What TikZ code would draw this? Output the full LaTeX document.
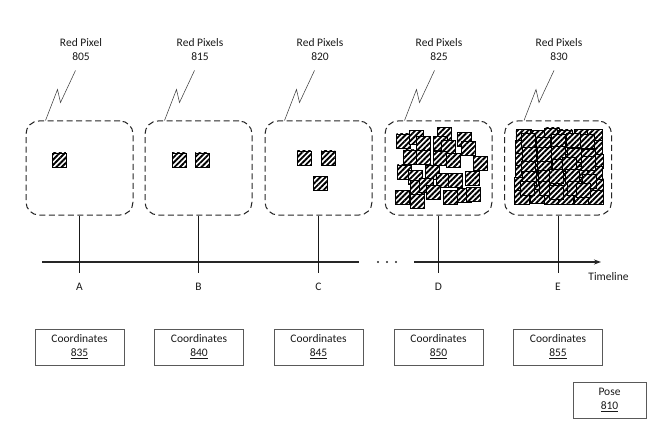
\documentclass[tikz,border=0pt]{standalone}
\usepackage{fontspec}
\setmainfont{Carlito}
\usetikzlibrary{patterns.meta,arrows.meta,calc}
\begin{document}
\begin{tikzpicture}[x=1pt,y=-1pt,
 every node/.style={font=\fontsize{11.5}{14}\selectfont, text=black!90},
 panel/.style={draw=black!85, line width=1pt, dash pattern=on 6pt off 3.5pt, rounded corners=13pt, minimum width=107pt, minimum height=94pt, inner sep=0pt},
 coordbox/.style={draw=black!65, line width=0.6pt, minimum width=89pt, minimum height=36pt, align=center, inner sep=0pt},
 pix/.style={draw=black, line width=0.6pt, fill=white, postaction={pattern={Lines[angle=45,distance=3.8pt,line width=1.9pt]}}},
 lead/.style={draw=black!75, line width=0.55pt},
 axis/.style={draw=black!85, line width=1.1pt},
 tick/.style={draw=black!90, line width=1pt},
 lbl/.style={align=center}]
\useasboundingbox (0,0) rectangle (672,433);
\newcommand\pixsq[2]{\draw[pix] (#1,#2) rectangle ++(14,14);}

% panels
\node[panel] (p1) at (79.5,168) {};
\node[panel] (p2) at (198.5,168) {};
\node[panel] (p3) at (318.5,168) {};
\node[panel] (p4) at (438.5,168) {};
\node[panel] (p5) at (558,168) {};

% labels
\node[lbl] (l1) at (81,50) {Red Pixel\\805};
\node[lbl] (l2) at (200,50) {Red Pixels\\815};
\node[lbl] (l3) at (320,50) {Red Pixels\\820};
\node[lbl] (l4) at (439,50) {Red Pixels\\825};
\node[lbl] (l5) at (559,50) {Red Pixels\\830};

% leaders
\foreach \p in {p1,p2,p3,p4,p5}{
  \draw[lead] ($(\p.north west)+(20,0)$) -- ++(12,-31) -- ++(3,13) -- ++(15,-32);
}

% pixels
\pixsq{52}{153}
\pixsq{172}{153}\pixsq{195}{153}
\pixsq{297}{151}\pixsq{321}{151}\pixsq{313}{176}

\foreach \x/\y in {396.7/134,409.3/130.7,416/136.7,437.3/127.3,433.3/136.7,441.7/140.7,457.3/132.7,461.7/141.7,403.3/150,416/150,433.3/151.7,446.7/153.3,473.3/156.7,397.3/165,408.3/170,425/165,436.7/173.3,448.3/173.3,465/171.7,410/180,419.3/178.3,426.7/185,395/190,410/194,443.3/190.7,457.3/188.3,466.7/187.3}{
  \pixsq{\x}{\y}
}

\pgfmathsetseed{11}
\foreach \i in {0,...,5}{\foreach \j in {0,...,5}{
  \pgfmathsetmacro\xx{515+\i*14.4+rand*1.5}
  \pgfmathsetmacro\yy{129+\j*12.2+rand*1.5}
  \draw[pix] (\xx,\yy) rectangle ++(15,14);
}}
\foreach \i in {0,...,4}{\foreach \j in {0,...,4}{
  \pgfmathsetmacro\xx{522+\i*14.4+rand*3}
  \pgfmathsetmacro\yy{135+\j*12.2+rand*3}
  \draw[pix] (\xx,\yy) rectangle ++(14,14);
}}

% timeline
\coordinate (t0) at (42,262);
\coordinate (t1) at (359,262);
\coordinate (t2) at (414,262);
\coordinate (t3) at (601,262);
\draw[axis] (t0) -- (t1);
\draw[axis,-{Stealth[length=7pt,width=5pt]}] (t2) -- (t3);
\fill[black!85] (378,262) circle (1.2) (387,262) circle (1.2) (396,262) circle (1.2);
\node (tl) at (608.5,277) {Timeline};

% ticks
\coordinate (k1) at (79.5,273);
\coordinate (k2) at (198.5,273);
\coordinate (k3) at (318.5,273);
\coordinate (k4) at (438.5,273);
\coordinate (k5) at (558,273);
\foreach \n in {1,...,5}{\draw[tick] (p\n.south) -- (k\n);}

\node (A) at (79.5,287) {A};
\node (B) at (198.5,287) {B};
\node (C) at (318.5,287) {C};
\node (D) at (438.5,287) {D};
\node (E) at (558,287) {E};

% coordinates
\node[coordbox] (c1) at (79.5,347) {Coordinates\\\underline{835}};
\node[coordbox] (c2) at (199,347) {Coordinates\\\underline{840}};
\node[coordbox] (c3) at (318.5,347) {Coordinates\\\underline{845}};
\node[coordbox] (c4) at (438.5,347) {Coordinates\\\underline{850}};
\node[coordbox] (c5) at (558,347) {Coordinates\\\underline{855}};
\node[coordbox, minimum width=73pt] (pose) at (609.5,400) {Pose\\\underline{810}};
\end{tikzpicture}
\end{document}
